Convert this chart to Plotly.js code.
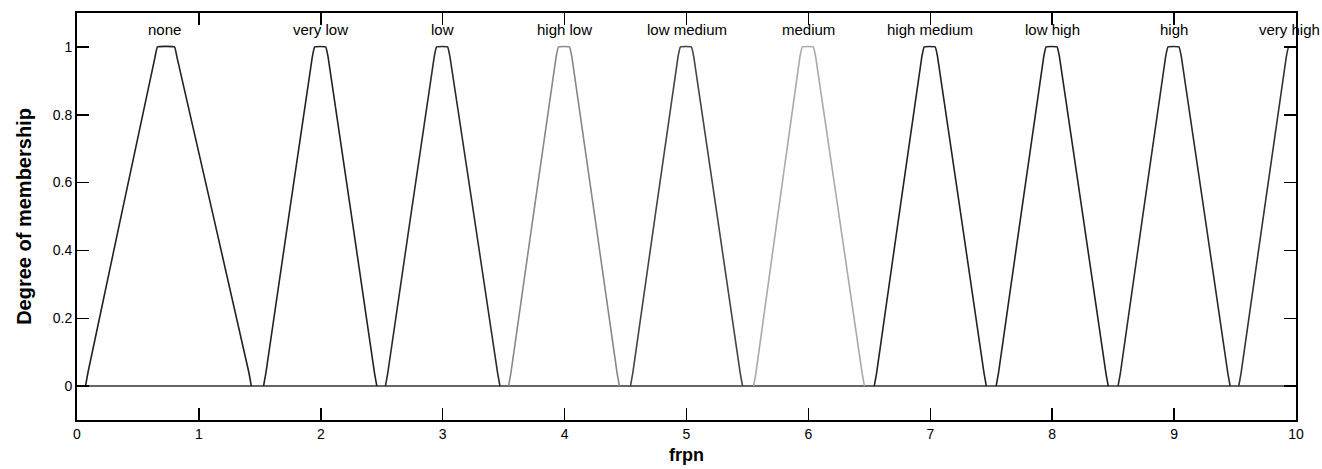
<!DOCTYPE html>
<html>
<head>
<meta charset="utf-8">
<script src="https://cdn.plot.ly/plotly-3.0.1.min.js"></script>
<style>html,body{margin:0;padding:0;background:#fff;}#chart{width:1322px;height:469px;}</style>
</head>
<body>
<div id="chart"></div>
<script>
// Membership function names and their breakpoints
const names = ["none","very low","low","high low","low medium","medium","high medium","low high","high","very high"];
// left foot, left shoulder, right shoulder, right foot (x values, frpn)
const leftFoot      = [0.07, 1.53, 2.53, 3.54, 4.54, 5.55, 6.54, 7.54, 8.54, 9.53];
const leftShoulder  = [0.66, 1.95, 2.95, 3.95, 4.95, 5.95, 6.95, 7.95, 8.95, 9.94];
const rightShoulder = [0.80, 2.04, 3.04, 4.04, 5.04, 6.04, 7.04, 8.04, 9.04, 10.0];
const rightFoot     = [1.43, 2.46, 3.47, 4.45, 5.46, 6.46, 7.46, 8.46, 9.46, 10.0];
const labelX        = [0.72, 2.0, 3.0, 4.0, 5.0, 6.0, 7.0, 8.0, 9.0, 9.95];
const lineColors    = ["#222","#222","#2a2a2a","#888","#444","#aaa","#222","#222","#2a2a2a","#333"];
const yTicks = [0, 0.2, 0.4, 0.6, 0.8, 1];
const yTickText = ["0","0.2","0.4","0.6","0.8","1"];
const xTicks = [0,1,2,3,4,5,6,7,8,9,10];

const traces = names.map((n, i) => {
  const a = leftFoot[i], b = leftShoulder[i], c = rightShoulder[i], d = rightFoot[i];
  let xs, ys;
  if (c >= 10) {
    xs = [a, a + 0.02, b - 0.02, b, c];
    ys = [0, 0.04, 0.97, 1, 1];
  } else {
    xs = [a, a + 0.02, b - 0.02, b, c, c + 0.02, d - 0.02, d];
    ys = [0, 0.04, 0.97, 1, 1, 0.97, 0.04, 0];
  }
  return {x: xs, y: ys, type: 'scatter', mode: 'lines', name: n,
          line: {color: lineColors[i], width: 1.6, shape: 'spline', smoothing: 0.3},
          hoverinfo: 'skip', cliponaxis: false};
});

const annotations = names.map((n, i) => ({
  x: labelX[i], y: 1.05, xref: 'x', yref: 'y', text: n, showarrow: false,
  xanchor: 'center', yanchor: 'middle',
  font: {family: 'Liberation Sans, Arial, sans-serif', size: 15, color: '#000'}
}));

const layout = {
  width: 1322, height: 469,
  margin: {l: 77, r: 26, t: 13, b: 49},
  paper_bgcolor: '#fff', plot_bgcolor: '#fff',
  showlegend: false,
  font: {family: 'Liberation Sans, Arial, sans-serif', size: 14, color: '#000'},
  xaxis: {
    range: [0, 10], tickvals: xTicks, ticktext: xTicks.map(String),
    ticks: 'inside', ticklen: 12, tickwidth: 1.5, tickcolor: '#000',
    showline: true, linecolor: '#000', linewidth: 2, mirror: 'ticks',
    showgrid: false, zeroline: false,
    tickfont: {size: 14},
    title: {text: '<b>frpn</b>', font: {size: 18}, standoff: 8}
  },
  yaxis: {
    range: [-0.1, 1.1], tickvals: yTicks, ticktext: yTickText,
    ticks: 'inside', ticklen: 12, tickwidth: 1.5, tickcolor: '#000',
    showline: true, linecolor: '#000', linewidth: 2, mirror: 'ticks',
    showgrid: false, zeroline: true, zerolinecolor: '#666', zerolinewidth: 1.5,
    tickfont: {size: 14},
    title: {text: '<b>Degree of membership</b>', font: {size: 20}, standoff: 16}
  },
  annotations: annotations
};

Plotly.newPlot('chart', traces, layout, {staticPlot: true, displayModeBar: false});
</script>
</body>
</html>
